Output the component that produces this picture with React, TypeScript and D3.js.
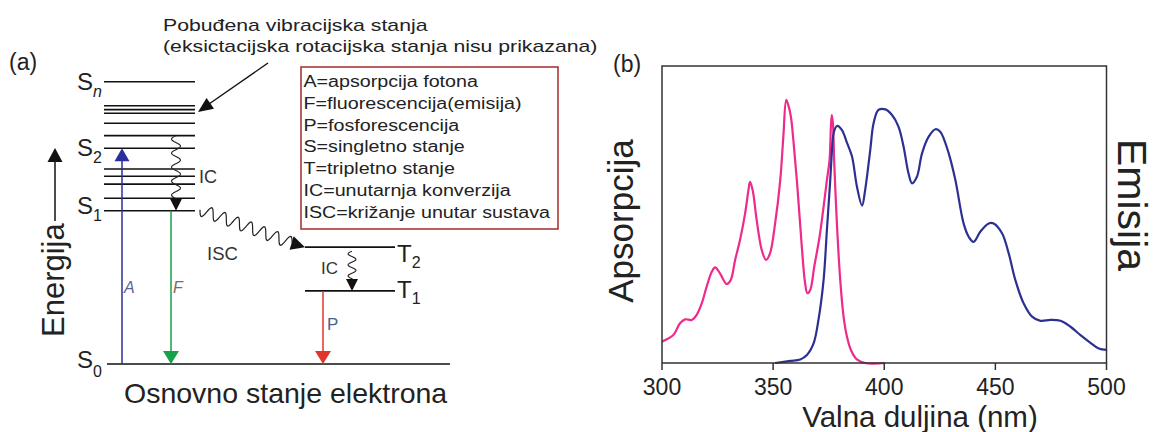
import * as d3 from "d3";

// ---------- panel (a): Jablonski diagram (energies in arbitrary units, S0 = 0, Sn = 100)
const singletLevels = [100, 91.5, 90.1, 88.8, 85.3, 80.9, 76.4, 69.1, 66.5, 63.7, 58.7, 54.3];
const tripletLevels = [41.4, 25.9];
const groundLevel = 0;

const legendLines = [
  "A=apsorpcija fotona",
  "F=fluorescencija(emisija)",
  "P=fosforescencija",
  "S=singletno stanje",
  "T=tripletno stanje",
  "IC=unutarnja konverzija",
  "ISC=križanje unutar sustava",
];
const noteLines = ["Pobuđena vibracijska stanja", "(eksictacijska rotacijska stanja nisu prikazana)"];

// ---------- panel (b): spectra, [wavelength nm, relative intensity]
const absorption: [number, number][] = [
  [300, 0.072], [305.1, 0.094], [308.1, 0.134], [310.4, 0.147], [313.4, 0.145], [315.6, 0.162],
  [317.9, 0.201], [320.1, 0.257], [322.4, 0.307], [323.9, 0.322], [326.1, 0.302], [329.1, 0.266],
  [330.9, 0.279], [332.9, 0.347], [335.1, 0.414], [337.4, 0.504], [338.9, 0.582], [339.6, 0.61],
  [340.8, 0.582], [342.6, 0.481], [344.9, 0.38], [346.8, 0.347], [348.6, 0.369], [350.9, 0.47],
  [353.2, 0.616], [354.6, 0.762], [355.9, 0.886], [356.8, 0.869], [358, 0.829], [359.1, 0.751],
  [360.9, 0.594], [362.9, 0.392], [364.4, 0.268], [365.4, 0.235], [366.7, 0.246], [368.5, 0.324],
  [370.9, 0.425], [372.7, 0.526], [374.2, 0.616], [375.4, 0.684], [376, 0.796], [376.4, 0.835],
  [376.9, 0.807], [377.5, 0.672], [378.7, 0.47], [380.2, 0.279], [381.7, 0.156], [383.2, 0.089],
  [385, 0.044], [387.7, 0.012], [391.4, 0], [400.4, 0],
];
const emission: [number, number][] = [
  [350.9, 0], [357.7, 0.007], [362.2, 0.012], [365.2, 0.027], [368.2, 0.066], [370.4, 0.145],
  [372.7, 0.279], [374.2, 0.448], [375.7, 0.616], [376.4, 0.706], [377.2, 0.773], [378.7, 0.798],
  [380.9, 0.785], [383.2, 0.742], [385.5, 0.695], [387.7, 0.594], [390, 0.53], [391.4, 0.582],
  [393.7, 0.717], [395.2, 0.807], [397.4, 0.852], [400.5, 0.854], [403.5, 0.835], [406.4, 0.796],
  [408.7, 0.728], [410.9, 0.639], [412.5, 0.605], [414.7, 0.627], [417, 0.706], [420, 0.762],
  [423, 0.787], [425.2, 0.779], [429, 0.706], [432, 0.616], [435.7, 0.47], [438, 0.425],
  [440.2, 0.408], [443.2, 0.442], [447, 0.47], [449.2, 0.47], [453, 0.437], [456, 0.369],
  [459, 0.279], [462.7, 0.201], [466.5, 0.156], [470.3, 0.142], [474.8, 0.145], [479.3, 0.142],
  [483.8, 0.122], [488.3, 0.094], [492.8, 0.068], [496.5, 0.049], [500, 0.044],
];
const xTicks = [300, 350, 400, 450, 500];

const FONT = "'Liberation Sans', Arial, sans-serif";
const INK = "#222";

function wavePath(x1: number, y1: number, x2: number, y2: number, amp: number, period: number) {
  const dx = x2 - x1, dy = y2 - y1, len = Math.hypot(dx, dy);
  const ux = dx / len, uy = dy / len;
  const n = Math.ceil(len);
  const pts = d3.range(n + 1).map((i) => {
    const t = (i / n) * len;
    const o = amp * Math.sin((2 * Math.PI * t) / period);
    return [x1 + ux * t - uy * o, y1 + uy * t + ux * o] as [number, number];
  });
  return d3.line()(pts) ?? "";
}

function headPath(tx: number, ty: number, dx: number, dy: number, len: number, half: number) {
  const l = Math.hypot(dx, dy), ux = dx / l, uy = dy / l;
  const bx = tx - ux * len, by = ty - uy * len;
  return `M${tx},${ty}L${bx - uy * half},${by + ux * half}L${bx + uy * half},${by - ux * half}Z`;
}

function Jablonski() {
  const yE = d3.scaleLinear().domain([0, 100]).range([364, 81.7]);
  const sCol: [number, number] = [104, 195];
  const tCol: [number, number] = [305, 395];
  const gCol: [number, number] = [107, 450];
  const s1 = yE(singletLevels[singletLevels.length - 1]);
  const s2 = yE(singletLevels[6]);
  const t2 = yE(tripletLevels[0]);
  const t1 = yE(tripletLevels[1]);
  const s0 = yE(groundLevel);
  const xA = 122, xF = 171, xP = 323, xIC = 176, xICt = 352;

  return (
    <g fontFamily={FONT}>
      <text x={9} y={70} fontSize={23} fill={INK}>(a)</text>

      {/* note + pointer */}
      <g transform="translate(163,0) scale(1.25,1)">
        {noteLines.map((t, i) => (
          <text key={t} x={0} y={31 + i * 21.5} fontSize={17} fill={INK}>{t}</text>
        ))}
      </g>
      <line x1={268} y1={63} x2={209} y2={104} stroke="#111" strokeWidth={1.4} />
      <path d={headPath(198, 112, -70, 49, 15, 6.5)} fill="#111" />

      {/* legend box */}
      <rect x={301} y={67} width={257} height={162} fill="#fff" stroke="#a52a2a" strokeWidth={1.5} />
      <g transform="translate(303.5,0) scale(1.23,1)">
        {legendLines.map((t, i) => (
          <text key={t} x={0} y={86.7 + i * 21.93} fontSize={16} fill={INK}>{t}</text>
        ))}
      </g>

      {/* energy axis */}
      <text transform={`translate(63.5,337) rotate(-90)`} fontSize={31} fill={INK}>Energija</text>
      <line x1={55} y1={221} x2={55} y2={158} stroke="#111" strokeWidth={1.5} />
      <path d={headPath(55, 148, 0, -1, 14, 7.5)} fill="#111" />

      {/* levels */}
      {singletLevels.map((e, i) => (
        <line key={`s${i}`} x1={sCol[0]} x2={sCol[1]} y1={yE(e)} y2={yE(e)} stroke="#111" strokeWidth={1.6} />
      ))}
      {tripletLevels.map((e, i) => (
        <line key={`t${i}`} x1={tCol[0]} x2={tCol[1]} y1={yE(e)} y2={yE(e)} stroke="#111" strokeWidth={1.6} />
      ))}
      <line x1={gCol[0]} x2={gCol[1]} y1={s0} y2={s0} stroke="#111" strokeWidth={1.6} />

      {/* state labels */}
      <g fill={INK} fontSize={24}>
        <text x={77} y={yE(100) + 8.5}>S<tspan fontSize={16} fontStyle="italic" dy={7}>n</tspan></text>
        <text x={77} y={s2 + 8}>S<tspan fontSize={16} dy={7}>2</tspan></text>
        <text x={77} y={s1 + 3.5}>S<tspan fontSize={16} dy={7}>1</tspan></text>
        <text x={77} y={s0 + 4}>S<tspan fontSize={16} dy={9}>0</tspan></text>
        <text x={397} y={t2 + 15}>T<tspan fontSize={16} dy={6}>2</tspan></text>
        <text x={397} y={t1 + 7.5}>T<tspan fontSize={16} dy={6}>1</tspan></text>
      </g>

      {/* radiative transitions */}
      <line x1={xA} x2={xA} y1={s0} y2={s2 + 10} stroke="#2b2f9a" strokeWidth={1.5} />
      <path d={headPath(xA, s2, 0, -1, 13, 7.5)} fill="#2b2f9a" />
      <line x1={xF} x2={xF} y1={s1} y2={s0 - 10} stroke="#18a04a" strokeWidth={1.5} />
      <path d={headPath(xF, s0, 0, 1, 13, 8)} fill="#18a04a" />
      <line x1={xP} x2={xP} y1={t1} y2={s0 - 10} stroke="#e0352b" strokeWidth={1.5} />
      <path d={headPath(xP, s0, 0, 1, 13, 8)} fill="#e0352b" />
      <text x={124} y={293} fontSize={16} fontStyle="italic" fill="#5a6598">A</text>
      <text x={173} y={293} fontSize={16} fontStyle="italic" fill="#7d6a5a">F</text>
      <text x={327} y={330} fontSize={17} fill="#4a6290">P</text>

      {/* non-radiative transitions */}
      <path d={wavePath(xIC, yE(singletLevels[5]), xIC, s1 - 12, 4.5, 14)} fill="none" stroke="#222" strokeWidth={1.1} />
      <path d={headPath(xIC, s1, 0, 1, 12, 6)} fill="#111" />
      <text x={199} y={183} fontSize={18} fill="#333">IC</text>

      <path d={wavePath(200, s1 - 1, 292, t2 - 4, 6, 14)} fill="none" stroke="#222" strokeWidth={1.2} />
      <path d={headPath(305, t2, 13, 4, 14, 7)} fill="#111" />
      <text x={207} y={260} fontSize={18.5} fill="#333">ISC</text>

      <path d={wavePath(xICt, t2 + 4, xICt, t1 - 12, 4, 11)} fill="none" stroke="#222" strokeWidth={1.1} />
      <path d={headPath(xICt, t1, 0, 1, 12, 6)} fill="#111" />
      <text x={321} y={274} fontSize={17} fill="#333">IC</text>

      <text x={124} y={403} fontSize={28.5} fill={INK}>Osnovno stanje elektrona</text>
    </g>
  );
}

function Spectra() {
  const x = d3.scaleLinear().domain([300, 500]).range([662, 1106.5]);
  const y = d3.scaleLinear().domain([0, 1]).range([363, 66]);
  const line = d3.line<[number, number]>().x((d) => x(d[0])).y((d) => y(d[1])).curve(d3.curveCatmullRom.alpha(0.5));
  const [x0, x1] = x.range();
  const [yb, yt] = y.range();

  return (
    <g fontFamily={FONT}>
      <text x={613} y={72} fontSize={23} fill={INK}>(b)</text>
      <path d={line(absorption) ?? ""} fill="none" stroke="#ee2a8a" strokeWidth={2.2} strokeLinejoin="round" />
      <path d={line(emission) ?? ""} fill="none" stroke="#2c3191" strokeWidth={2.2} strokeLinejoin="round" />
      <path d={`M${x0},${yb}V${yt}H${x1}V${yb}H${x0}`} fill="none" stroke="#333" strokeWidth={1.5} />
      {xTicks.map((t) => (
        <g key={t} transform={`translate(${x(t)},0)`}>
          <line y1={yb} y2={yb + 7} stroke="#333" strokeWidth={1.5} />
          <text y={395} textAnchor="middle" fontSize={23} fill={INK}>{t}</text>
        </g>
      ))}
      <text x={920} y={427} textAnchor="middle" fontSize={29.5} fill={INK}>Valna duljina (nm)</text>
      <text transform={`translate(633,${y(0.478)}) rotate(-90)`} textAnchor="middle" fontSize={35} fill={INK}>Apsorpcija</text>
      <text transform={`translate(1118,${y(0.532)}) rotate(90)`} textAnchor="middle" fontSize={41} fill={INK}>Emisija</text>
    </g>
  );
}

export default function App() {
  return (
    <svg
      width={1157}
      height={432}
      viewBox="0 0 1157 432"
      style={{ position: "absolute", left: 0, top: 0, background: "#fff" }}
    >
      <rect width={1157} height={432} fill="#fff" />
      <Jablonski />
      <Spectra />
    </svg>
  );
}
